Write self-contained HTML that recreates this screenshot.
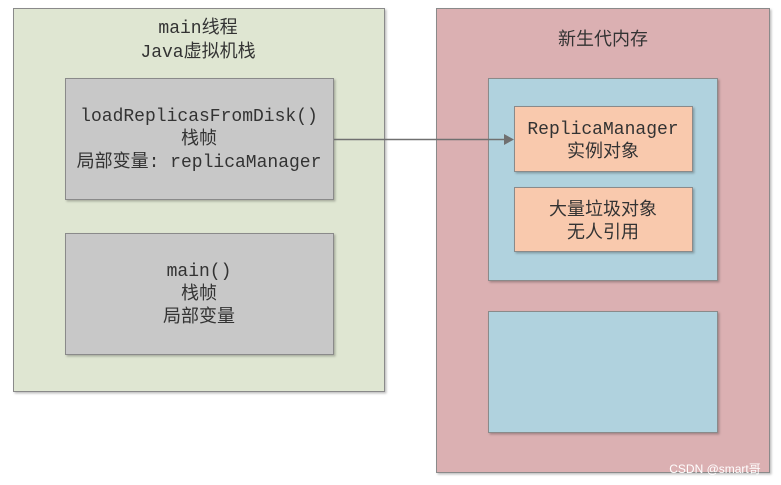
<!DOCTYPE html>
<html><head><meta charset="utf-8"><style>
html,body{margin:0;padding:0;background:#fff;width:781px;height:485px;overflow:hidden}
text{font-family:"Liberation Mono","Noto Sans CJK SC",monospace;font-size:18px;fill:#333}
</style></head><body>
<svg width="781" height="485" xmlns="http://www.w3.org/2000/svg">
<defs><filter id="s" x="-5%" y="-5%" width="115%" height="115%"><feDropShadow dx="1.5" dy="1.5" stdDeviation="1" flood-color="#000" flood-opacity="0.25"/></filter></defs>
<rect x="13.5" y="8.5" width="371" height="383" fill="#dfe6d2" stroke="#8a8a8a" filter="url(#s)"/>
<text x="198" y="33" text-anchor="middle">main线程</text>
<text x="198" y="57" text-anchor="middle">Java虚拟机栈</text>
<rect x="65.5" y="78.5" width="268" height="121" fill="#c8c8c8" stroke="#8a8a8a" filter="url(#s)"/>
<text x="199" y="121" text-anchor="middle">loadReplicasFromDisk()</text>
<text x="199" y="144" text-anchor="middle">栈帧</text>
<text x="199" y="167" text-anchor="middle">局部变量: replicaManager</text>
<rect x="65.5" y="233.5" width="268" height="121" fill="#c8c8c8" stroke="#8a8a8a" filter="url(#s)"/>
<text x="199" y="276" text-anchor="middle">main()</text>
<text x="199" y="299" text-anchor="middle">栈帧</text>
<text x="199" y="322" text-anchor="middle">局部变量</text>
<rect x="436.5" y="8.5" width="333" height="464" fill="#dbb0b2" stroke="#8a8a8a" filter="url(#s)"/>
<text x="603" y="45" text-anchor="middle">新生代内存</text>
<rect x="488.5" y="78.5" width="229" height="202" fill="#b0d2de" stroke="#8a8a8a" filter="url(#s)"/>
<rect x="514.5" y="106.5" width="178" height="65" fill="#f9c9ad" stroke="#8a8a8a" filter="url(#s)"/>
<text x="603" y="134" text-anchor="middle">ReplicaManager</text>
<text x="603" y="157" text-anchor="middle">实例对象</text>
<rect x="514.5" y="187.5" width="178" height="64" fill="#f9c9ad" stroke="#8a8a8a" filter="url(#s)"/>
<text x="603" y="215" text-anchor="middle">大量垃圾对象</text>
<text x="603" y="238" text-anchor="middle">无人引用</text>
<rect x="488.5" y="311.5" width="229" height="121" fill="#b0d2de" stroke="#8a8a8a" filter="url(#s)"/>
<line x1="334" y1="139.5" x2="506" y2="139.5" stroke="#707070" stroke-width="1.5"/>
<polygon points="514,139.5 504,134 504,145" fill="#707070"/>
<text x="715" y="473" text-anchor="middle" style="font-family:'Liberation Sans','Noto Sans CJK SC',sans-serif;font-size:12px;fill:#fff">CSDN @smart哥</text>
</svg>
</body></html>
